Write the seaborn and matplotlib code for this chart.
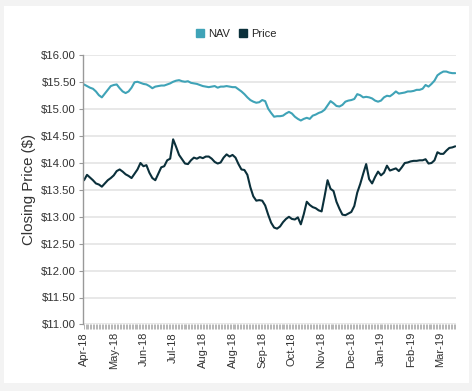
import matplotlib
matplotlib.use("Agg")
import matplotlib.pyplot as plt
import matplotlib.patches as mpatches
from matplotlib.lines import Line2D
from matplotlib.ticker import FuncFormatter, MultipleLocator
import pandas as pd
import seaborn as sns

# Data (roughly every second trading day, Apr-18 .. Mar-19)
nav = [15.46, 15.43, 15.40, 15.38, 15.33, 15.26, 15.22, 15.29, 15.36, 15.43,
       15.45, 15.46, 15.39, 15.33, 15.30, 15.33, 15.40, 15.50, 15.51, 15.49,
       15.47, 15.46, 15.43, 15.39, 15.42, 15.43, 15.44, 15.44, 15.46, 15.48,
       15.51, 15.53, 15.54, 15.52, 15.51, 15.52, 15.49, 15.48, 15.47, 15.45,
       15.43, 15.42, 15.41, 15.42, 15.43, 15.40, 15.42, 15.42, 15.43, 15.42,
       15.41, 15.41, 15.37, 15.33, 15.28, 15.22, 15.17, 15.14, 15.12, 15.13,
       15.17, 15.15, 15.01, 14.93, 14.86, 14.87, 14.87, 14.88, 14.92, 14.95,
       14.92, 14.86, 14.82, 14.79, 14.82, 14.84, 14.82, 14.88, 14.90, 14.93,
       14.95, 14.99, 15.07, 15.15, 15.11, 15.06, 15.05, 15.08, 15.14, 15.16,
       15.17, 15.19, 15.28, 15.26, 15.22, 15.23, 15.22, 15.20, 15.16, 15.14,
       15.16, 15.22, 15.25, 15.24, 15.28, 15.33, 15.29, 15.30, 15.31, 15.33,
       15.33, 15.34, 15.36, 15.36, 15.38, 15.45, 15.42, 15.47, 15.53, 15.63,
       15.67, 15.70, 15.70, 15.68, 15.67, 15.67]

price = [13.68, 13.78, 13.73, 13.68, 13.62, 13.60, 13.56, 13.62, 13.68, 13.72,
         13.77, 13.85, 13.88, 13.84, 13.79, 13.76, 13.72, 13.80, 13.88, 14.00,
         13.94, 13.96, 13.82, 13.72, 13.68, 13.80, 13.92, 13.94, 14.05, 14.08,
         14.44, 14.30, 14.15, 14.07, 13.99, 13.98, 14.05, 14.10, 14.08, 14.11,
         14.09, 14.12, 14.12, 14.08, 14.02, 13.99, 14.01, 14.10, 14.16, 14.12,
         14.15, 14.10, 13.98, 13.88, 13.87, 13.78, 13.55, 13.38, 13.30, 13.31,
         13.30, 13.21, 13.04, 12.89, 12.80, 12.78, 12.82, 12.90, 12.96, 13.00,
         12.96, 12.95, 12.99, 12.86, 13.05, 13.28, 13.22, 13.18, 13.16, 13.12,
         13.10, 13.38, 13.68, 13.52, 13.48, 13.28, 13.15, 13.04, 13.03, 13.06,
         13.09, 13.20, 13.45, 13.61, 13.80, 13.98, 13.70, 13.62, 13.74, 13.84,
         13.77, 13.82, 13.95, 13.86, 13.88, 13.90, 13.85, 13.92, 14.00, 14.01,
         14.03, 14.04, 14.04, 14.05, 14.05, 14.07, 13.99, 14.00, 14.05, 14.20,
         14.17, 14.17, 14.23, 14.28, 14.29, 14.31]

month_labels = ['Apr-18', 'May-18', 'Jun-18', 'Jul-18', 'Aug-18', 'Aug-18', 'Sep-18',
                'Oct-18', 'Nov-18', 'Dec-18', 'Jan-19', 'Feb-19', 'Mar-19']
label_step = 10

series_names = ['NAV', 'Price']
colors = {'NAV': '#3fa3b7', 'Price': '#0b303b'}

df = pd.DataFrame({
    'day': list(range(len(nav))) * 2,
    'value': nav + price,
    'series': ['NAV'] * len(nav) + ['Price'] * len(price),
})

sns.set_style("white")
plt.rcParams['font.family'] = ['Liberation Sans', 'DejaVu Sans']

fig = plt.figure(figsize=(4.72, 3.91), dpi=100)
fig.patch.set_facecolor('#f3f3f3')
# white card inside the grey border
fig.patches.append(mpatches.Rectangle((4 / 472, 8 / 391), 465 / 472, 377 / 391,
                                      transform=fig.transFigure, facecolor='white',
                                      edgecolor='none', zorder=-10))

ax = fig.add_axes([83 / 472, 1 - 324.4 / 391, 373 / 472, 269 / 391])
ax.set_facecolor('none')
ax.set_zorder(1)

sns.lineplot(data=df, x='day', y='value', hue='series', palette=colors,
             linewidth=1.5, ax=ax, legend=False)

# axes
ax.set_ylim(11, 16)
ax.yaxis.set_major_locator(MultipleLocator(0.5))
ax.yaxis.set_major_formatter(FuncFormatter(lambda v, p: '${:.2f}'.format(v)))
ax.grid(axis='y', color='#e6e6e6', linewidth=1.3)
ax.set_axisbelow(True)

ax.set_xlim(-0.35, len(nav) - 1 + 0.25)
ticks = list(range(0, len(month_labels) * label_step, label_step))
ax.set_xticks(ticks)
ax.set_xticklabels(month_labels, rotation=90)
ax.xaxis.set_minor_locator(MultipleLocator(0.5))

for s in ['top', 'right', 'bottom']:
    ax.spines[s].set_visible(False)
ax.spines['left'].set_color('#999999')
ax.spines['left'].set_linewidth(1.0)

ax.tick_params(axis='y', which='major', left=True, length=3, width=0.8,
               color='#999999', labelsize=8.2, labelcolor='#333333', pad=2)
ax.tick_params(axis='x', which='both', bottom=True, length=3.5, width=0.6,
               color='#aaaaaa', labelsize=8, labelcolor='#333333', pad=2)

ax.set_xlabel('')
ax.set_ylabel('Closing Price ($)', fontsize=10.8, color='#333333', labelpad=4)

handles = [Line2D([], [], linestyle='none', marker='s', markersize=6,
                  markerfacecolor=colors[n], markeredgecolor=colors[n]) for n in series_names]
fig.legend(handles, series_names, loc='center', bbox_to_anchor=(0.5, 1 - 34 / 391),
           ncol=2, frameon=False, fontsize=8, handlelength=0.8, handletextpad=0.3,
           columnspacing=0.8)

fig.savefig('out.png', dpi=100, facecolor=fig.get_facecolor())
